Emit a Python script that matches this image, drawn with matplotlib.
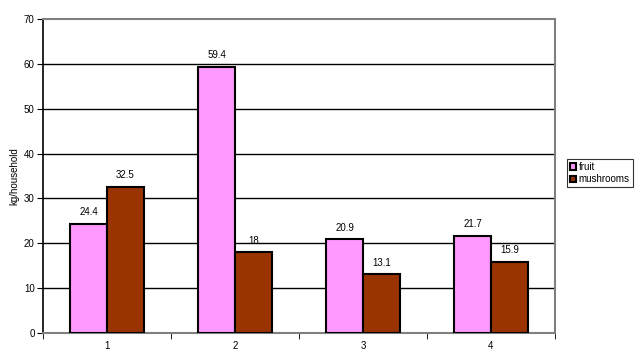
import matplotlib
matplotlib.use("Agg")
import matplotlib.pyplot as plt
import numpy as np

plt.rcParams['font.family'] = ['Liberation Sans', 'DejaVu Sans']

categories = ['1', '2', '3', '4']
fruit = [24.4, 59.4, 20.9, 21.7]
mushrooms = [32.5, 18, 13.1, 15.9]

fig = plt.figure(figsize=(6.41, 3.55), dpi=100)
ax = fig.add_axes([43/641, 22/355, 512/641, 314/355])

x = np.arange(len(categories))
w = 0.289
b1 = ax.bar(x - w/2, fruit, w, color='#FF99FF', edgecolor='black', linewidth=1.5, label='fruit', zorder=3)
b2 = ax.bar(x + w/2, mushrooms, w, color='#993300', edgecolor='black', linewidth=1.5, label='mushrooms', zorder=3)

for bars, vals in ((b1, fruit), (b2, mushrooms)):
    for r, v in zip(bars, vals):
        ax.text(r.get_x() + r.get_width()/2, v + 1.5, f'{v:g}', ha='center', va='bottom', fontsize=7)

ax.set_xlim(-0.5, 3.5)
ax.set_ylim(0, 70)
ax.set_yticks(range(0, 71, 10))
ax.set_xticks(x)
ax.set_xticklabels(categories, fontsize=7)
ax.set_xticks(np.arange(-0.5, 4, 1), minor=True)
ax.tick_params(axis='x', which='major', length=0, pad=6)
ax.tick_params(axis='x', which='minor', length=4, color='black', direction='out')
ax.tick_params(axis='y', labelsize=7, length=4, direction='out', pad=2)
for yv in range(10, 70, 10):
    ax.axhline(yv, color='black', linewidth=1, zorder=1)

ax.spines['left'].set_color('black')
ax.spines['left'].set_linewidth(1.2)
for s in ('top', 'right', 'bottom'):
    ax.spines[s].set_color('#808080')
    ax.spines[s].set_linewidth(1.5)

ax.set_ylabel('kg/household', fontsize=7, labelpad=3)

leg = fig.legend(handles=[b1, b2], labels=['fruit', 'mushrooms'], loc='upper left',
                 bbox_to_anchor=(567/641, 1 - 159/355), fontsize=7, frameon=True,
                 fancybox=False, edgecolor='black', handlelength=0.6, handleheight=0.6,
                 handletextpad=0.3, borderpad=0.3, labelspacing=0.25, borderaxespad=0)
leg.get_frame().set_linewidth(0.8)

fig.savefig('out.png', dpi=100)
